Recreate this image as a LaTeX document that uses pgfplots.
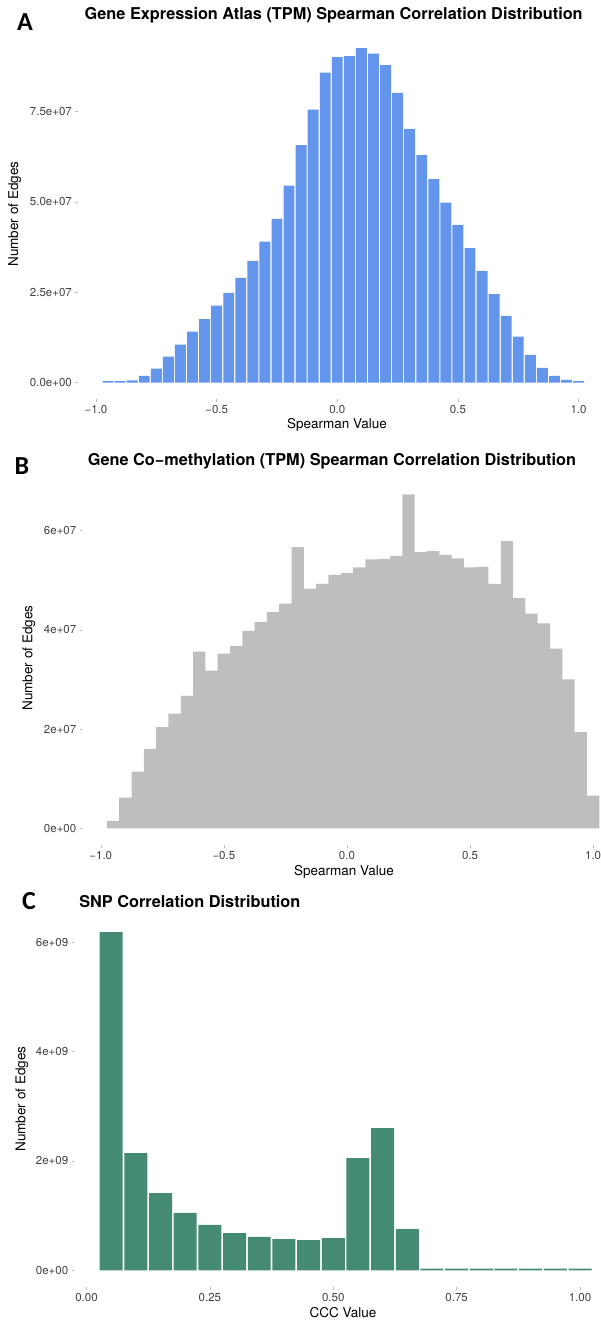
\documentclass[border=0pt]{standalone}
\usepackage{fontspec}
\setmainfont{TeX Gyre Heros}
\newfontfamily\tagfont{Carlito}
\usepackage{pgfplots}
\pgfplotsset{compat=1.18}

\definecolor{atlasblue}{HTML}{6495ED}
\definecolor{methgray}{HTML}{BEBEBE}
\definecolor{snpgreen}{HTML}{458B74}

\pgfplotsset{
  hist/.style={
    scale only axis, anchor=south west,
    axis x line*=bottom, axis y line*=left,
    axis line style={draw=none},
    tick align=outside, major tick length=2.5pt,
    tick style={gray!55, line width=0.5pt},
    ybar, bar shift=0pt,
    scaled ticks=false,
    tick label style={font=\fontsize{11.5}{12}\selectfont, text=black!75},
  },
}

\begin{document}
\begin{tikzpicture}
\path[use as bounding box] (0pt,0pt) rectangle (600pt,-1321pt);

% ---- A ----
\node[font=\tagfont\bfseries\fontsize{26}{26}\selectfont] at (25pt,-22pt) {A};
\node[font=\bfseries\fontsize{16.3}{18}\selectfont] at (333.7pt,-15.7pt)
  {Gene Expression Atlas (TPM) Spearman Correlation Distribution};
\node[rotate=90, font=\fontsize{13.5}{15}\selectfont] at (14.6pt,-214pt) {Number of Edges};
\node[font=\fontsize{13.5}{15}\selectfont] at (337pt,-425pt) {Spearman Value};
\begin{axis}[hist,
  at={(77.9pt,-399.3pt)}, width=521.2pt, height=367.8pt,
  xmin=-1.075, xmax=1.085, ymin=-4.6e6, ymax=97.1e6,
  xtick={-1,-0.5,0,0.5,1}, xticklabels={−1.0,−0.5,0.0,0.5,1.0},
  ytick={0,2.5e7,5e7,7.5e7}, yticklabels={0.0e+00,2.5e+07,5.0e+07,7.5e+07},
]
\addplot[fill=atlasblue, draw=none, bar width=0.0452] coordinates {
(-0.95,0.4e6) (-0.90,0.4e6) (-0.85,0.6e6) (-0.80,1.9e6) (-0.75,3.9e6)
(-0.70,7.2e6) (-0.65,10.5e6) (-0.60,14.1e6) (-0.55,17.6e6) (-0.50,21.3e6)
(-0.45,24.8e6) (-0.40,29.0e6) (-0.35,33.7e6) (-0.30,39.0e6) (-0.25,45.3e6)
(-0.20,54.5e6) (-0.15,65.7e6) (-0.10,75.5e6) (-0.05,85.7e6) (0.00,90.0e6)
(0.05,90.3e6) (0.10,92.5e6) (0.15,91.0e6) (0.20,87.8e6) (0.25,80.1e6)
(0.30,70.2e6) (0.35,62.9e6) (0.40,56.3e6) (0.45,49.8e6) (0.50,43.6e6)
(0.55,37.2e6) (0.60,30.9e6) (0.65,24.5e6) (0.70,18.5e6) (0.75,12.7e6)
(0.80,7.7e6) (0.85,4.1e6) (0.90,1.9e6) (0.95,0.8e6) (1.00,0.4e6)
};
\end{axis}

% ---- B ----
\node[font=\tagfont\bfseries\fontsize{26}{26}\selectfont] at (22pt,-466pt) {B};
\node[font=\bfseries\fontsize{16.3}{18}\selectfont] at (332pt,-461.7pt)
  {Gene Co−methylation (TPM) Spearman Correlation Distribution};
\node[rotate=90, font=\fontsize{13.5}{15}\selectfont] at (28.8pt,-658pt) {Number of Edges};
\node[font=\fontsize{13.5}{15}\selectfont] at (344pt,-872pt) {Spearman Value};
\begin{axis}[hist,
  at={(82.3pt,-845pt)}, width=517.7pt, height=367.4pt,
  xmin=-1.075, xmax=1.028, ymin=-3.37e6, ymax=70.7e6,
  xtick={-1,-0.5,0,0.5,1}, xticklabels={−1.0,−0.5,0.0,0.5,1.0},
  ytick={0,2e7,4e7,6e7}, yticklabels={0e+00,2e+07,4e+07,6e+07},
]
\addplot[fill=methgray, draw=none, bar width=0.05] coordinates {
(-0.95,1.5e6) (-0.90,6.2e6) (-0.85,11.4e6) (-0.80,16.0e6) (-0.75,20.4e6)
(-0.70,23.1e6) (-0.65,26.7e6) (-0.60,35.6e6) (-0.55,31.8e6) (-0.50,35.2e6)
(-0.45,36.8e6) (-0.40,39.8e6) (-0.35,41.6e6) (-0.30,43.6e6) (-0.25,45.3e6)
(-0.20,56.7e6) (-0.15,48.3e6) (-0.10,49.3e6) (-0.05,51.1e6) (0.00,51.5e6)
(0.05,52.6e6) (0.10,54.2e6) (0.15,54.3e6) (0.20,54.9e6) (0.25,67.3e6)
(0.30,55.7e6) (0.35,55.9e6) (0.40,55.1e6) (0.45,54.4e6) (0.50,52.6e6)
(0.55,52.7e6) (0.60,49.3e6) (0.65,57.9e6) (0.70,46.4e6) (0.75,43.3e6)
(0.80,41.3e6) (0.85,36.2e6) (0.90,30.0e6) (0.95,19.4e6) (1.00,6.6e6)
};
\end{axis}

% ---- C ----
\node[font=\tagfont\bfseries\fontsize{26}{26}\selectfont] at (29pt,-901pt) {C};
\node[anchor=west, font=\bfseries\fontsize{16.3}{18}\selectfont] at (75.8pt,-901.7pt)
  {SNP Correlation Distribution};
\node[rotate=90, font=\fontsize{13.5}{15}\selectfont] at (21.9pt,-1099pt) {Number of Edges};
\node[font=\fontsize{13.5}{15}\selectfont] at (343pt,-1313pt) {CCC Value};
\begin{axis}[hist,
  at={(74.2pt,-1287.2pt)}, width=520.6pt, height=372pt,
  xmin=-0.025, xmax=1.03, ymin=-0.309e9, ymax=6.49e9,
  xtick={0,0.25,0.5,0.75,1}, xticklabels={0.00,0.25,0.50,0.75,1.00},
  ytick={0,2e9,4e9,6e9}, yticklabels={0e+00,2e+09,4e+09,6e+09},
]
\addplot[fill=snpgreen, draw=none, bar width=0.0466] coordinates {
(0.05,6.18e9) (0.10,2.14e9) (0.15,1.41e9) (0.20,1.05e9) (0.25,0.83e9)
(0.30,0.68e9) (0.35,0.61e9) (0.40,0.57e9) (0.45,0.55e9) (0.50,0.59e9)
(0.55,2.05e9) (0.60,2.60e9) (0.65,0.755e9) (0.70,0.03e9) (0.75,0.03e9)
(0.80,0.03e9) (0.85,0.03e9) (0.90,0.03e9) (0.95,0.03e9) (1.00,0.03e9)
};
\end{axis}
\end{tikzpicture}
\end{document}
